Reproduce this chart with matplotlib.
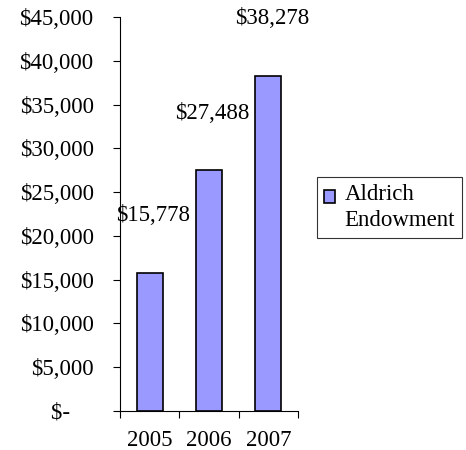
import matplotlib
matplotlib.use("Agg")
import matplotlib.pyplot as plt
from matplotlib.ticker import FixedLocator, FixedFormatter
from matplotlib.patches import Rectangle
from matplotlib.container import BarContainer
from matplotlib.legend_handler import HandlerPatch, update_from_first_child

years = ["2005", "2006", "2007"]
values = [15778, 27488, 38278]
series_name = "Aldrich\nEndowment"
yticks = [0, 5000, 10000, 15000, 20000, 25000, 30000, 35000, 40000, 45000]
ytick_labels = ["$-    "] + ["${:,}".format(v) for v in yticks[1:]]

plt.rcParams['font.family'] = ['Liberation Serif', 'DejaVu Serif']
plt.rcParams['font.size'] = 16.5
LS = 1.3

fig = plt.figure(figsize=(4.66, 4.5), dpi=100)
ax = fig.add_axes([120/466, 1-411/450, (298-120)/466, (411-17)/450])

x = list(range(len(years)))
bars = ax.bar(x, values, width=0.44, color="#9999FF", edgecolor="black", linewidth=1.2,
              label=series_name, zorder=3)

ax.set_xlim(-0.5, len(years) - 0.5)
ax.set_ylim(0, 45000)
ax.set_yticks(yticks)
ax.set_yticklabels(ytick_labels)

ax.xaxis.set_major_locator(FixedLocator([i - 0.5 for i in range(len(years) + 1)]))
ax.xaxis.set_major_formatter(FixedFormatter([""] * (len(years) + 1)))
ax.xaxis.set_minor_locator(FixedLocator(x))
ax.xaxis.set_minor_formatter(FixedFormatter(years))
ax.tick_params(axis='x', which='major', direction='out', length=5, width=0.8)
ax.tick_params(axis='x', which='minor', length=0, pad=14)
ax.tick_params(axis='y', direction='out', length=5, width=0.8, pad=14)

for s in ["top", "right"]:
    ax.spines[s].set_visible(False)
for s in ["left", "bottom"]:
    ax.spines[s].set_linewidth(0.8)

for xi, v in zip(x, values):
    ax.annotate("${:,}".format(v), xy=(xi, v), xytext=(3.5, 57),
                textcoords="offset pixels", ha="center", va="center")


def make_patch(legend, orig_handle, xdescent, ydescent, width, height, fontsize):
    return Rectangle((-xdescent, -ydescent + 0.48 * fontsize), width, height)


leg = fig.legend(loc="upper left", bbox_to_anchor=(317/466, 1-177/450),
                 frameon=True, fancybox=False, shadow=False,
                 handlelength=0.5, handleheight=0.5, handletextpad=0.4,
                 borderpad=0.3, borderaxespad=0,
                 handler_map={BarContainer: HandlerPatch(patch_func=make_patch,
                                                         update_func=update_from_first_child)})
leg.get_frame().set_edgecolor("black")
leg.get_frame().set_linewidth(0.8)
for t in leg.get_texts():
    t.set_linespacing(LS)

fig.savefig("out.png", dpi=100)
